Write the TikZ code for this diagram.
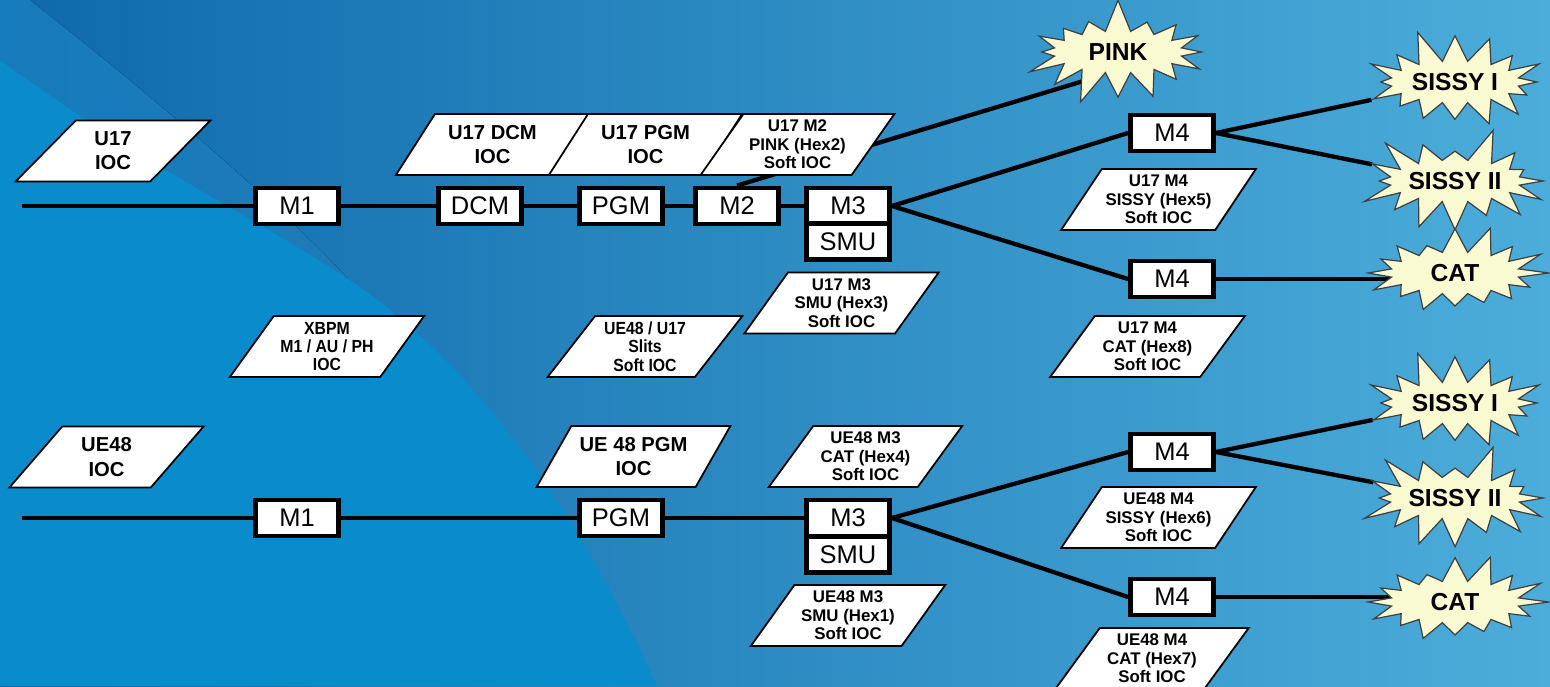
\documentclass[tikz,border=0pt]{standalone}
\usepackage{fontspec}
\setmainfont{Liberation Sans}
\newfontfamily\narrowsans[FakeStretch=0.9]{Liberation Sans}
\usetikzlibrary{shapes.geometric,shapes.symbols}
\pgfdeclarelayer{bg}
\pgfsetlayers{bg,main}
\definecolor{bgdark}{HTML}{0E69AB}
\definecolor{bglight}{HTML}{4CADDA}
\definecolor{bgcyan}{HTML}{0A8BCB}
\definecolor{bgstripeA}{HTML}{167BBC}
\definecolor{bgstripeB}{HTML}{1E7BB8}
\definecolor{burstfill}{HTML}{FAFAD2}
\tikzset{
 box/.style={draw, line width=2.8pt, fill=white, minimum width=1.66cm, minimum height=0.72cm, inner sep=0pt, font=\fontsize{14.5}{16}\selectfont},
 para/.style={trapezium, trapezium left angle=52, trapezium right angle=128, trapezium stretches=true, minimum width=3.9cm, minimum height=1.22cm, draw, line width=1pt, fill=white, inner sep=0pt, align=center},
 bigtxt/.style={font=\fontsize{11.5}{13.8}\selectfont\bfseries},
 smalltxt/.style={font=\fontsize{9.6}{10.5}\selectfont\bfseries},
 narrowtxt/.style={font=\narrowsans\fontsize{10}{10.5}\selectfont\bfseries},
 burst/.style={starburst, starburst points=16, starburst point height=0.68cm, minimum width=3.95cm, minimum height=2.2cm, fill=burstfill, draw=black!75, line width=0.7pt, inner sep=0pt, font=\fontsize{14}{16}\selectfont\bfseries},
 wire/.style={line width=2.45pt, black},
}
\begin{document}
\begin{tikzpicture}[x=0.02cm, y=-0.02cm]
\useasboundingbox (0,0) rectangle (1550,686);
% top beamline
\node[box] (m1a) at (297,206) {M1};
\node[box] (dcm) at (480,206) {DCM};
\node[box] (pgma) at (621,206) {PGM};
\node[box] (m2) at (737,206) {M2};
\node[box] (m3a) at (848,206) {M3};
\node[box] (smua) at (848,241.5) {SMU};
\node[box] (m4a) at (1172,133) {M4};
\node[box] (m4b) at (1172,279) {M4};
\node[burst, random starburst=7] (pink) at (1118,52) {PINK};
\node[burst, random starburst=11] (sissy1a) at (1455,82) {SISSY I};
\node[burst, random starburst=23] (sissy2a) at (1455,181) {SISSY II};
\node[burst, random starburst=31] (cata) at (1455,273) {CAT};
% bottom beamline
\node[box] (m1b) at (297,518) {M1};
\node[box] (pgmb) at (621,518) {PGM};
\node[box] (m3b) at (848,518) {M3};
\node[box] (smub) at (848,554.5) {SMU};
\node[box] (m4c) at (1172,452) {M4};
\node[box] (m4d) at (1172,597) {M4};
\node[burst, random starburst=11] (sissy1b) at (1455,403) {SISSY I};
\node[burst, random starburst=23] (sissy2b) at (1455,498) {SISSY II};
\node[burst, random starburst=31] (catb) at (1455,602) {CAT};
% IOC parallelograms
\node[para,bigtxt] (iocu17) at (113,151) {U17\\IOC};
\node[para,bigtxt] (iocdcm) at (492.5,144.5) {U17 DCM\\IOC};
\node[para,bigtxt] (iocpgm) at (645.5,144.5) {U17 PGM\\IOC};
\node[para,smalltxt] (iocm2) at (797.5,144.5) {U17 M2\\PINK (Hex2)\\Soft IOC};
\node[para,smalltxt] (iocm3a) at (841.5,303) {U17 M3\\SMU (Hex3)\\Soft IOC};
\node[para,smalltxt] (iocm4a) at (1158.5,199.5) {U17 M4\\SISSY (Hex5)\\Soft IOC};
\node[para,smalltxt] (iocm4b) at (1147.5,346.5) {U17 M4\\CAT (Hex8)\\Soft IOC};
\node[para,narrowtxt] (iocxbpm) at (327,346.5) {XBPM\\M1 / AU / PH\\IOC};
\node[para,narrowtxt] (iocslits) at (645,346.5) {UE48 / U17\\Slits\\Soft IOC};
\node[para,bigtxt] (iocue48) at (106.5,457) {UE48\\IOC};
\node[para,bigtxt] (iocpgmb) at (633.5,456.5) {UE 48 PGM\\IOC};
\node[para,smalltxt] (iocm3c) at (865.5,456.5) {UE48 M3\\CAT (Hex4)\\Soft IOC};
\node[para,smalltxt] (iocm3d) at (848,615.5) {UE48 M3\\SMU (Hex1)\\Soft IOC};
\node[para,smalltxt] (iocm4c) at (1158.5,517.5) {UE48 M4\\SISSY (Hex6)\\Soft IOC};
\node[para,smalltxt] (iocm4d) at (1152,658.5) {UE48 M4\\CAT (Hex7)\\Soft IOC};
\coordinate (starta) at (22,206);
\coordinate (startb) at (22,518);
\coordinate (pinkc) at (1100,76);
\begin{pgfonlayer}{bg}
\fill[left color=bgdark, right color=bglight] (0,0) rectangle (1550,686);
\fill[left color=bgstripeA, right color=bgstripeB] (0,0) -- (30,0) .. controls (170,110) and (290,215) .. (348,279) -- (0,300) -- cycle;
\fill[bgcyan] (0,60) .. controls (150,170) and (260,220) .. (348,279) .. controls (500,380) and (600,560) .. (657,686) -- (0,686) -- cycle;
\draw[wire] (starta) -- (m1a) -- (dcm) -- (pgma) -- (m2) -- (m3a);
\draw[wire] (m3a.east) -- (m4a.west);
\draw[wire] (m3a.east) -- (m4b.west);
\draw[wire] (m4a.east) -- (sissy1a);
\draw[wire] (m4a.east) -- (sissy2a);
\draw[wire] (m4b) -- (m4b -| cata);
\draw[wire] (m2.north) -- (pinkc);
\draw[wire] (startb) -- (m1b) -- (pgmb) -- (m3b);
\draw[wire] (m3b.east) -- (m4c.west);
\draw[wire] (m3b.east) -- (m4d.west);
\draw[wire] (m4c.east) -- (sissy1b);
\draw[wire] (m4c.east) -- (sissy2b);
\draw[wire] (m4d) -- (m4d -| catb);
\end{pgfonlayer}
\end{tikzpicture}
\end{document}
